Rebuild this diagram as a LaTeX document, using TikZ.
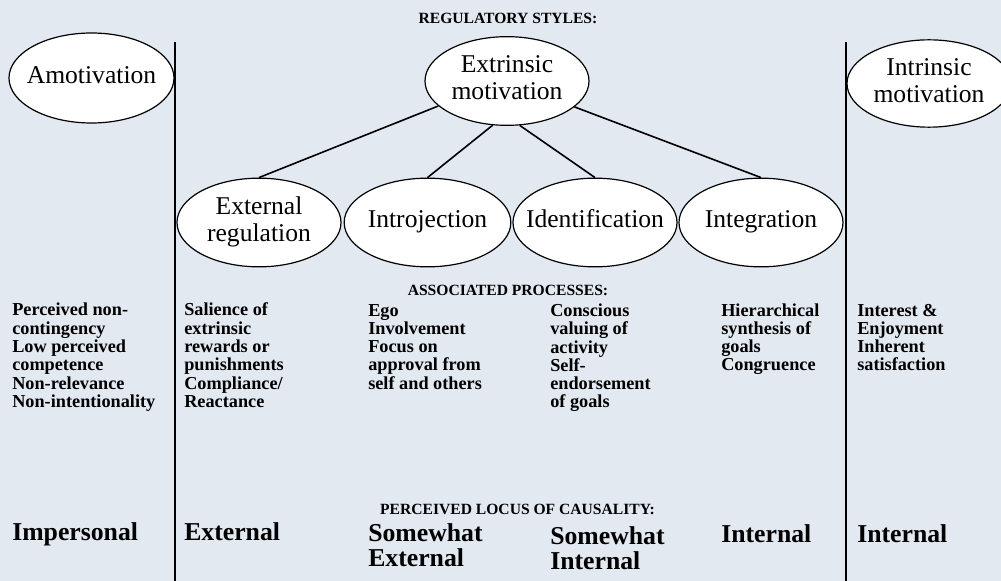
\documentclass[tikz,border=0pt]{standalone}
\usepackage{fontspec}
\setmainfont{Liberation Serif}
\usetikzlibrary{shapes.geometric}

\definecolor{paper}{RGB}{227,233,241}

% centred text of fixed size so the oval keeps its own dimensions
\newcommand{\ovaltext}[1]{\makebox[0pt]{\begin{tabular}{@{}c@{}}#1\end{tabular}}}

\tikzset{
  oval/.style={shape=ellipse, draw, line width=0.9pt, fill=white, inner sep=0pt,
    minimum width=123pt, minimum height=66.5pt,
    font=\fontsize{19.2}{20.25}\selectfont},
  heading/.style={font=\bfseries\fontsize{11.7}{13}\selectfont, inner sep=0pt, anchor=base},
  % multi-line blocks are placed by the baseline of their last line
  proc/.style={font=\bfseries\fontsize{13.7}{13.7}\selectfont, align=left,
    anchor=base west, inner sep=0pt},
  locus/.style={font=\bfseries\fontsize{19.3}{18.75}\selectfont, align=left,
    anchor=base west, inner sep=0pt},
  divider/.style={line width=1.5pt},
  link/.style={line width=1.2pt}
}

\begin{document}
\begin{tikzpicture}[x=0.75pt, y=-0.75pt]
  % page and background
  \fill[paper] (0,0) rectangle (1001,581);
  \useasboundingbox (0,0) rectangle (1001,581);
  \clip (0,0) rectangle (1001,581);

  % column dividers
  \coordinate (d1top) at (175,42);
  \coordinate (d1bot) at (175,581);
  \coordinate (d2top) at (846,42);
  \coordinate (d2bot) at (846,581);
  \draw[divider] (d1top) -- (d1bot);
  \draw[divider] (d2top) -- (d2bot);

  % headings
  \node[heading] (hreg) at (508,24) {REGULATORY STYLES:};
  \node[heading] (hproc) at (508,296) {ASSOCIATED PROCESSES:};
  \node[heading] (hloc) at (517.5,514) {PERCEIVED LOCUS OF CAUSALITY:};

  % regulatory styles
  \node[oval, minimum width=123.75pt, minimum height=67.5pt] (amot) at (91.5,78) {\ovaltext{Amotivation}};
  \node[oval] (extr) at (507,81) {\ovaltext{Extrinsic\\motivation}};
  \node[oval, minimum height=65.5pt] (intr) at (929,83.5) {\ovaltext{Intrinsic\\motivation}};

  \node[oval] (extreg) at (259,222.5) {\ovaltext{External\\regulation}};
  \node[oval, minimum width=125pt] (introj) at (427.5,222.5) {\ovaltext{Introjection}};
  \node[oval] (ident) at (595,222.5) {\ovaltext{Identification}};
  \node[oval] (integ) at (761,222.5) {\ovaltext{Integration}};

  \draw[link] (extreg.north) -- (extr.200.6);
  \draw[link] (introj.north) -- (extr.252.4);
  \draw[link] (ident.north) -- (extr.286.5);
  \draw[link] (integ.north) -- (extr.339.8);

  % associated processes
  \node[proc] (p1) at (12,407.3) {Perceived non-\\contingency\\Low perceived\\competence\\Non-relevance\\Non-intentionality};
  \node[proc] (p2) at (184,407.3) {Salience of\\extrinsic\\rewards or\\punishments\\Compliance/\\Reactance};
  \node[proc] (p3) at (368,389.1) {Ego\\Involvement\\Focus on\\approval from\\self and others};
  \node[proc] (p4) at (550,407.8) {Conscious\\valuing of\\activity\\Self-\\endorsement\\of goals};
  \node[proc] (p5) at (721,370.8) {Hierarchical\\synthesis of\\goals\\Congruence};
  \node[proc] (p6) at (857,370.8) {Interest \&\\Enjoyment\\Inherent\\satisfaction};

  % perceived locus of causality
  \node[locus] (c1) at (12,540.5) {Impersonal};
  \node[locus] (c2) at (184,540.5) {External};
  \node[locus] (c3) at (368,566.7) {Somewhat\\External};
  \node[locus] (c4) at (550,569) {Somewhat\\Internal};
  \node[locus] (c5) at (721,542.7) {Internal};
  \node[locus] (c6) at (857,542.7) {Internal};
\end{tikzpicture}
\end{document}
